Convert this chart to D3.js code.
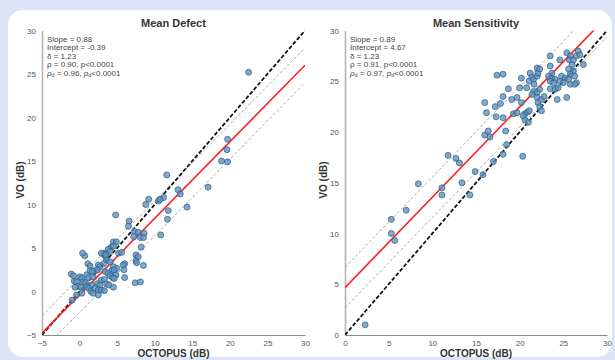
<!DOCTYPE html>
<html><head><meta charset="utf-8">
<script src="https://cdn.jsdelivr.net/npm/d3@7"></script>
<style>
html,body{margin:0;padding:0;background:#dce4f7;}
svg{display:block;font-family:"Liberation Sans",Arial,sans-serif;}
</style></head>
<body>
<svg id="c" width="615" height="360"></svg>
<script>
// ---------- DATA ----------
const mdTitle = "Mean Defect";
const msTitle = "Mean Sensitivity";
const xLabel = "OCTOPUS (dB)";
const yLabel = "VO (dB)";
const mdTicks = [-5, 0, 5, 10, 15, 20, 25, 30];
const msTicks = [0, 5, 10, 15, 20, 25, 30];
const mdFit = {slope: 0.88, intercept: -0.39};
const msFit = {slope: 0.89, intercept: 4.67};
const bandOffset = 2.0;
const mdStats = ["Slope = 0.88", "Intercept = -0.39", "δ = 1.23", "ρ = 0.90, p<0.0001", ["ρ", "d", " = 0.96, ", "p", "d", "<0.0001"]];
const msStats = ["Slope = 0.89", "Intercept = 4.67", "δ = 1.23", "ρ = 0.91, p<0.0001", ["ρ", "d", " = 0.97, ", "p", "d", "<0.0001"]];

const mdX = [22.5,19.7,19.6,18.9,19.7,17.1,11.6,13.1,13.4,14.3,11.8,11.7,10.8,11.2,10.5,10.7,9.2,8.8,
  7.3,7.8,8.6,8.1,8.5,8.2,7.5,7.8,7.5,7.6,8.5,7.4,8.1,6.0,5.9,6.0,4.8,6.6,6.5,7.2,
  4.5,4.9,4.2,4.5,3.8,4.05,0.7,3.2,3.3,3.5,5.2,5.6,3.6,4.1,1.1,1.4,2.5,2.7,3.2,4.5,4.95,4.3,4.6,
  2.1,2.4,1.4,1.7,3.4,3.8,4.85,4.05,4.4,-1.1,-0.8,0.06,0.3,0.95,1.2,1.8,2.9,3.3,4.6,
  -0.7,-0.4,0.5,0.8,2.4,2.7,3.6,3.9,1.6,-0.2,0.2,0.95,1.2,-0.6,2.1,2.5,2.9,3.3,4.5,
  1.5,1.8,0.3,-0.4,-1.0,2.5,5.8,0.4,2.9,3.5];
const mdY = [25.2,17.5,16.3,15.0,14.9,12.0,13.4,11.7,11.2,9.7,9.3,8.3,6.5,10.8,10.4,10.6,10.6,10.0,
  6.9,6.8,6.7,6.2,6.2,5.1,4.2,4.0,3.5,3.3,3.0,1.0,1.1,3.2,2.5,1.6,8.8,8.1,7.5,6.3,
  5.7,5.7,5.1,5.2,4.85,4.6,4.1,4.4,4.2,4.0,4.4,4.5,3.6,3.4,3.2,2.9,3.05,2.85,3.2,2.85,2.65,2.4,2.5,
  2.4,2.5,2.4,2.3,2.3,2.1,1.9,1.8,1.6,2.0,1.8,1.7,1.5,1.9,1.6,1.7,1.3,1.4,1.5,
  1.2,1.1,1.1,1.0,0.9,0.75,0.86,0.75,0.75,0.6,0.5,0.55,0.37,0.5,0.37,0.17,0.17,0.1,0.5,
  0.0,-0.2,-0.2,-0.4,-1.0,-0.4,3.05,4.4,4.4,4.2];

const msX = [2.3,5.3,5.3,5.7,7.0,8.4,11.1,11.1,13.4,14.3,
  11.8,12.7,13.1,14.9,15.8,17.0,18.1,20.35,18.5,
  16.0,16.2,16.0,16.4,16.6,17.2,17.8,18.1,18.7,17.3,18.1,18.4,
  17.4,18.1,19.1,19.3,19.7,20.2,
  20.6,20.9,21.1,20.6,21.0,20.4,
  21.2,21.4,21.1,21.6,22.0,22.1,21.65,22.0,22.3,
  21.6,22.0,21.4,22.3,22.0,22.1,22.5,22.8,22.3,22.5,
  23.5,23.5,23.7,23.3,23.7,24.05,23.5,23.9,
  23.5,24.05,24.4,24.3,25.4,24.6,24.8,25.2,24.6,25.0,
  25.4,25.8,25.7,26.0,26.15,26.5,26.7,26.9,
  25.6,26.15,25.8,26.3,26.5,25.8,25.6,27.3,26.3,
  20.0,20.8,19.7,20.2];
const msY = [1.0,11.4,10.0,9.3,12.3,14.9,14.5,13.8,15.0,13.8,
  17.7,17.4,16.95,16.1,15.8,17.1,17.8,17.6,18.75,
  22.9,21.9,19.7,20.1,19.5,22.5,22.8,23.5,24.25,21.5,21.4,20.1,
  25.6,25.7,23.2,21.8,21.9,25.3,
  21.8,21.95,22.1,21.2,20.96,21.6,
  25.8,25.4,25.0,25.2,25.5,25.8,24.7,26.3,26.2,
  24.0,23.9,23.7,24.2,23.4,22.9,23.2,23.5,22.5,22.1,
  27.5,26.5,25.8,25.5,25.3,25.2,25.0,24.85,
  24.25,24.2,24.35,23.2,23.4,27.1,25.5,25.3,25.0,24.85,
  27.8,27.5,27.1,26.65,27.1,27.5,27.97,27.6,
  26.2,26.0,25.7,25.5,24.85,24.7,25.2,26.65,24.7,
  24.35,24.35,23.4,22.9];

// ---------- DRAW ----------
const svg = d3.select("#c");
svg.append("rect").attr("width",615).attr("height",360).attr("fill","#dce4f7");
svg.append("rect").attr("x",8).attr("y",10).attr("width",604).attr("height",347)
  .attr("rx",15).attr("fill","#ffffff");

function panel(id, cfg){
  const x = d3.scaleLinear().domain(cfg.domain).range(cfg.xr);
  const y = d3.scaleLinear().domain(cfg.domain).range(cfg.yr);
  const g = svg.append("g");
  const [d0,d1] = cfg.domain;

  g.append("clipPath").attr("id","clip"+id).append("rect")
    .attr("x",cfg.xr[0]).attr("y",cfg.yr[1]).attr("width",cfg.xr[1]-cfg.xr[0]).attr("height",cfg.yr[0]-cfg.yr[1]);

  // axes
  const ya = g.append("g").attr("transform",`translate(${cfg.xr[0]},0)`)
    .call(d3.axisLeft(y).tickValues(cfg.ticks).tickSize(0).tickPadding(6).tickFormat(d3.format("d")));
  ya.select(".domain").attr("stroke","#b4b4b4").attr("stroke-width",1.6);
  const xa = g.append("g").attr("transform",`translate(0,${cfg.yr[0]})`)
    .call(d3.axisBottom(x).tickValues(cfg.ticks).tickSize(0).tickPadding(5).tickFormat(d3.format("d")));
  xa.select(".domain").attr("stroke","#8a8a8a").attr("stroke-width",1);
  g.selectAll(".tick text").attr("fill","#555").attr("font-size","8px")
    .attr("font-family","Liberation Sans, Arial, sans-serif");

  const lines = g.append("g").attr("clip-path",`url(#clip${id})`);
  const line = d3.line().x(d=>x(d[0])).y(d=>y(d[1]));
  const xs = [d0, d1];
  const fitPts = off => xs.map(v=>[v, cfg.fit.slope*v + cfg.fit.intercept + off]);

  const cx = cfg.xv, cy = cfg.yv;
  const pts = cx.map((v,i)=>[v, cy[i]]);

  lines.append("path").datum(fitPts(bandOffset)).attr("d",line)
    .attr("fill","none").attr("stroke","#a0a0a0").attr("stroke-width",0.9).attr("stroke-dasharray","3,2");
  lines.append("path").datum(fitPts(-bandOffset)).attr("d",line)
    .attr("fill","none").attr("stroke","#a0a0a0").attr("stroke-width",0.9).attr("stroke-dasharray","3,2");

  g.append("g").selectAll("circle").data(pts).join("circle")
    .attr("cx",d=>x(d[0])).attr("cy",d=>y(d[1])).attr("r",3)
    .attr("fill","#5f93c0").attr("fill-opacity",0.8)
    .attr("stroke","#2e5a80").attr("stroke-width",0.7);

  lines.append("path").datum(xs.map(v=>[v,v])).attr("d",line)
    .attr("fill","none").attr("stroke","#111").attr("stroke-width",1.8).attr("stroke-dasharray","4,2");
  lines.append("path").datum(fitPts(0)).attr("d",line)
    .attr("fill","none").attr("stroke","#ff1f1f").attr("stroke-width",1.6);

  const cxm = (cfg.xr[0]+cfg.xr[1])/2;
  g.append("text").attr("x",cxm).attr("y",26.5).attr("text-anchor","middle")
    .attr("font-size","11px").attr("font-weight","bold").attr("fill","#333").text(cfg.title);
  g.append("text").attr("x",cxm).attr("y",357).attr("text-anchor","middle")
    .attr("font-size","10px").attr("font-weight","bold").attr("fill","#333").text(xLabel);
  g.append("text").attr("transform",`translate(${cfg.xr[0]-18},180) rotate(-90)`).attr("text-anchor","middle")
    .attr("font-size","10px").attr("font-weight","bold").attr("fill","#333").text(yLabel);

  cfg.stats.forEach((s,i)=>{
    const t = g.append("text").attr("x",cfg.xr[0]+5).attr("y",41.5+i*8.5)
      .attr("font-size","8px").attr("fill","#444");
    if (typeof s === "string") { t.text(s); }
    else {
      t.append("tspan").attr("font-style","italic").text(s[0]);
      t.append("tspan").attr("font-size","5.5px").attr("dy",1.5).text(s[1]);
      t.append("tspan").attr("dy",-1.5).text(s[2]);
      t.append("tspan").attr("font-style","italic").text(s[3]);
      t.append("tspan").attr("font-size","5.5px").attr("dy",1.5).text(s[4]);
      t.append("tspan").attr("dy",-1.5).text(s[5]);
    }
  });
}

panel("L",{domain:[-5,30],xr:[42,305],yr:[335,30.5],ticks:mdTicks,fit:mdFit,xv:mdX,yv:mdY,title:mdTitle,stats:mdStats});
panel("R",{domain:[0,30],xr:[345,607],yr:[335,30.5],ticks:msTicks,fit:msFit,xv:msX,yv:msY,title:msTitle,stats:msStats});
</script>
</body></html>
